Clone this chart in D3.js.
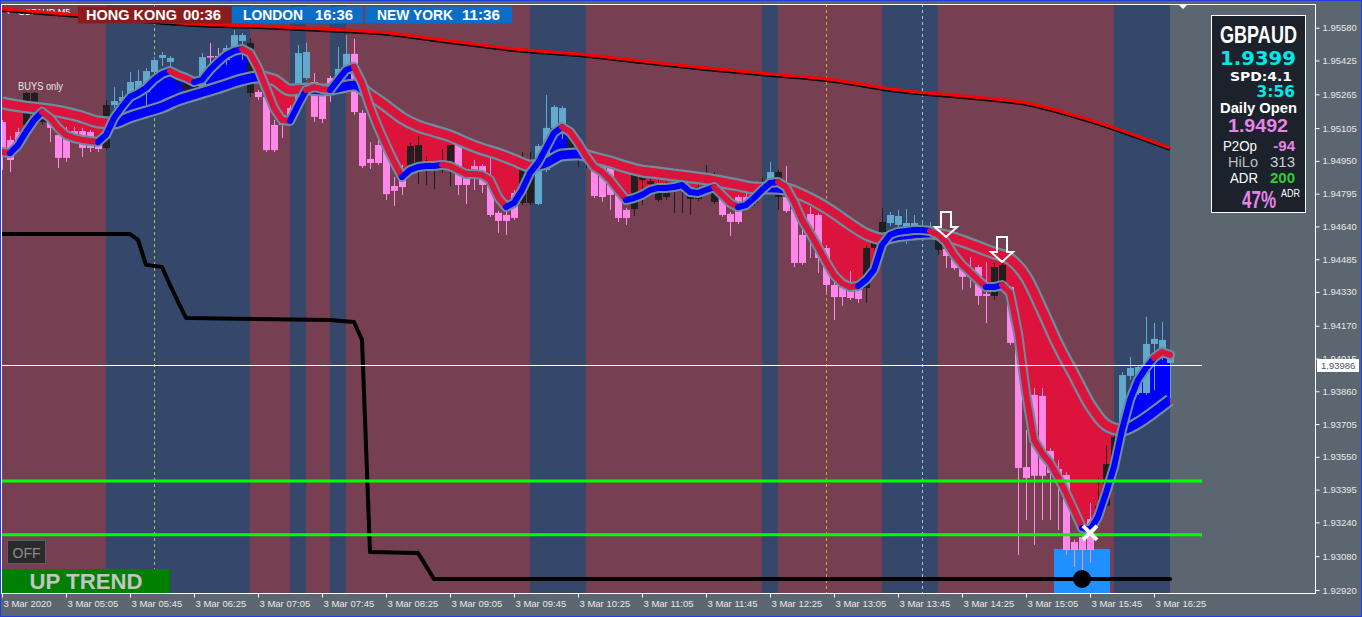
<!DOCTYPE html>
<html><head><meta charset="utf-8">
<script src="https://cdn.jsdelivr.net/npm/d3@7/dist/d3.min.js"></script>
<style>
html,body{margin:0;padding:0;background:#5B6670;overflow:hidden;}
svg{display:block;}
text{font-family:"Liberation Sans",Arial,sans-serif;}
</style></head>
<body>
<svg id="chart" width="1362" height="617"></svg>
<script>
// ---------------- DATA ----------------
const symbol = "GBPAUD";
const timeLabels = ["3 Mar 2020","3 Mar 05:05","3 Mar 05:45","3 Mar 06:25","3 Mar 07:05","3 Mar 07:45","3 Mar 08:25","3 Mar 09:05","3 Mar 09:45","3 Mar 10:25","3 Mar 11:05","3 Mar 11:45","3 Mar 12:25","3 Mar 13:05","3 Mar 13:45","3 Mar 14:25","3 Mar 15:05","3 Mar 15:45","3 Mar 16:25"];
const timeTickBars = [0,8,16,24,32,40,48,56,64,72,80,88,96,104,112,120,128,136,144];
const priceTicks = [1.95580,1.95425,1.95265,1.95105,1.94950,1.94795,1.94640,1.94485,1.94330,1.94170,1.94015,1.93860,1.93705,1.93550,1.93395,1.93240,1.93080,1.92920];

// session bands (bar index ranges), kinds: m = maroon session, n = navy session
const sessionFrom = [0,13,31,36,38,41,43,66,73,95,97,110,117,139];
const sessionTo   = [13,31,36,38,41,43,66,73,95,97,110,117,139,146];
const sessionKind = ["m","n","m","n","m","n","m","n","m","n","m","n","m","n"];

// candles (M5 bars, index 0 = 04:25)
const opens = [
1.95134,1.95049,1.95087,1.95120,1.95134,1.95134,1.95143,1.95072,1.95063,1.95091,
1.95091,1.95087,1.95058,1.95011,1.95214,1.95233,1.95252,1.95276,1.95276,1.95370,
1.95437,1.95418,1.95323,1.95271,1.95271,1.95271,1.95446,1.95446,1.95427,1.95474,
1.95517,1.95508,1.95276,1.95252,1.95120,1.95167,1.95200,1.95229,1.95342,1.95323,
1.95262,1.95342,1.95347,1.95389,1.95456,1.95177,1.94959,1.95025,1.95035,1.94831,
1.94912,1.94912,1.94912,1.94912,1.94921,1.94921,1.94921,1.95025,1.94869,1.94926,
1.94926,1.94831,1.94704,1.94694,1.94798,1.94751,1.94751,1.94746,1.94907,1.95106,
1.95110,1.94983,1.94973,1.94964,1.94945,1.94931,1.94926,1.94789,1.94718,1.94722,
1.94860,1.94841,1.94765,1.94779,1.94826,1.94822,1.94770,1.94770,1.94845,1.94756,
1.94770,1.94699,1.94779,1.94779,1.94751,1.94836,1.94864,1.94779,1.94779,1.94722,
1.94600,1.94699,1.94694,1.94538,1.94363,1.94353,1.94340,1.94340,1.94349,1.94538,
1.94609,1.94656,1.94647,1.94637,1.94642,1.94623,1.94618,1.94529,1.94533,1.94505,
1.94443,1.94424,1.94448,1.94320,1.94311,1.94372,1.94353,1.94103,1.93502,1.93843,
1.93838,1.93578,1.93493,1.93464,1.93147,1.93171,1.93256,1.93261,1.93318,1.93521,
1.93663,1.93933,1.93852,1.93852,1.94084,1.94065,1.93994];
const highs = [
1.95143,1.95068,1.95106,1.95276,1.95276,1.95224,1.95153,1.95096,1.95110,1.95110,
1.95106,1.95096,1.95068,1.95238,1.95299,1.95281,1.95370,1.95380,1.95389,1.95441,
1.95465,1.95446,1.95370,1.95342,1.95333,1.95460,1.95508,1.95484,1.95498,1.95569,
1.95555,1.95531,1.95285,1.95262,1.95143,1.95181,1.95214,1.95498,1.95508,1.95366,
1.95276,1.95352,1.95489,1.95545,1.95527,1.95191,1.95039,1.95049,1.95049,1.94874,
1.94931,1.95035,1.95068,1.94973,1.94945,1.95006,1.95025,1.95035,1.94879,1.94954,
1.94935,1.94964,1.94713,1.94708,1.94812,1.94992,1.94992,1.95030,1.95262,1.95214,
1.95210,1.95087,1.95049,1.95011,1.94992,1.94954,1.94940,1.94798,1.94727,1.94897,
1.94883,1.94869,1.94907,1.94850,1.94916,1.94860,1.94812,1.94860,1.94931,1.94897,
1.94789,1.94708,1.94789,1.94845,1.94850,1.94869,1.94945,1.94907,1.94926,1.94741,
1.94647,1.94732,1.94704,1.94552,1.94377,1.94368,1.94429,1.94349,1.94552,1.94614,
1.94727,1.94708,1.94718,1.94722,1.94694,1.94671,1.94661,1.94614,1.94543,1.94514,
1.94453,1.94495,1.94458,1.94472,1.94467,1.94472,1.94358,1.94112,1.93677,1.93876,
1.93876,1.93592,1.93535,1.93478,1.93157,1.93180,1.93332,1.93455,1.93606,1.93663,
1.93951,1.94022,1.93985,1.94212,1.94183,1.94188,1.94046];
const lows = [
1.94907,1.94897,1.95020,1.95110,1.95124,1.95120,1.95039,1.94916,1.94945,1.95049,
1.94968,1.94992,1.94992,1.95001,1.95200,1.95186,1.95243,1.95266,1.95214,1.95361,
1.95399,1.95380,1.95285,1.95262,1.95262,1.95262,1.95394,1.95413,1.95404,1.95451,
1.95427,1.95252,1.95238,1.94992,1.94992,1.95058,1.95134,1.95219,1.95333,1.95134,
1.95129,1.95229,1.95333,1.95380,1.95167,1.94916,1.94912,1.94931,1.94765,1.94737,
1.94789,1.94897,1.94841,1.94836,1.94817,1.94893,1.94831,1.94789,1.94746,1.94812,
1.94798,1.94685,1.94609,1.94600,1.94671,1.94741,1.94741,1.94741,1.94897,1.95096,
1.95054,1.94973,1.94921,1.94916,1.94774,1.94756,1.94718,1.94661,1.94647,1.94689,
1.94741,1.94789,1.94756,1.94765,1.94704,1.94704,1.94694,1.94760,1.94836,1.94746,
1.94685,1.94595,1.94651,1.94741,1.94737,1.94822,1.94850,1.94718,1.94704,1.94448,
1.94458,1.94491,1.94420,1.94330,1.94197,1.94264,1.94292,1.94278,1.94278,1.94529,
1.94600,1.94642,1.94623,1.94557,1.94576,1.94576,1.94595,1.94505,1.94443,1.94434,
1.94340,1.94349,1.94268,1.94183,1.94292,1.94325,1.94079,1.93086,1.93251,1.93133,
1.93251,1.93251,1.93204,1.93086,1.93029,1.92968,1.93048,1.93251,1.93308,1.93512,
1.93653,1.93914,1.93843,1.93843,1.93866,1.94008,1.93828];
const closes = [
1.94987,1.94954,1.95044,1.95271,1.95271,1.95158,1.95106,1.94964,1.94964,1.95063,
1.95011,1.95011,1.95006,1.95214,1.95233,1.95252,1.95323,1.95328,1.95375,1.95427,
1.95451,1.95437,1.95356,1.95323,1.95309,1.95441,1.95441,1.95441,1.95484,1.95545,
1.95545,1.95271,1.95252,1.95001,1.95001,1.95120,1.95153,1.95460,1.95465,1.95158,
1.95148,1.95304,1.95385,1.95456,1.95181,1.94926,1.94940,1.94940,1.94793,1.94808,
1.94826,1.95020,1.95025,1.94945,1.94940,1.94940,1.95025,1.94836,1.94836,1.94897,
1.94836,1.94694,1.94666,1.94666,1.94680,1.94907,1.94926,1.95020,1.95106,1.95205,
1.95200,1.95068,1.95035,1.95001,1.94784,1.94779,1.94789,1.94680,1.94680,1.94883,
1.94874,1.94855,1.94812,1.94812,1.94845,1.94841,1.94789,1.94826,1.94879,1.94817,
1.94694,1.94661,1.94661,1.94756,1.94845,1.94855,1.94897,1.94897,1.94713,1.94467,
1.94467,1.94585,1.94491,1.94363,1.94306,1.94306,1.94301,1.94297,1.94538,1.94609,
1.94661,1.94694,1.94689,1.94656,1.94656,1.94637,1.94633,1.94590,1.94500,1.94443,
1.94401,1.94401,1.94311,1.94311,1.94448,1.94458,1.94089,1.93497,1.93450,1.93460,
1.93460,1.93474,1.93464,1.93109,1.93109,1.93109,1.93109,1.93318,1.93516,1.93644,
1.93937,1.93970,1.93975,1.94084,1.94108,1.94103,1.94018];
// candle colour class: d = pink, u = light blue, k = black
const candleKind = ("ddd"+"kkk"+"ddddddd"+"k"+"uuuuuuuu"+"kkk"+"u"+"dd"+"uuu"+"k"+"ddddd"+"uu"+"ddd"+"uu"+"ddddddd"+"kkkkkk"+"dddddddd"+"kk"+"uuuu"+"kkk"+"ddddd"+"kkkkkkkkkkk"+"dddd"+"kk"+"u"+"k"+"dddddddddd"+"kkk"+"uuuuuu"+"k"+"dddddd"+"kk"+"ddddddddddd"+"kkk"+"uuuuuuu").split("");

// fast moving average (one value per bar)
const fastMA = [
1.94992,1.94987,1.95025,1.95087,1.95143,1.95181,1.95153,1.95106,1.95072,1.95058,
1.95049,1.95044,1.95039,1.95072,1.95153,1.95205,1.95252,1.95271,1.95295,1.95333,
1.95361,1.95375,1.95356,1.95342,1.95323,1.95333,1.95380,1.95418,1.95451,1.95470,
1.95479,1.95460,1.95389,1.95295,1.95200,1.95143,1.95139,1.95214,1.95285,1.95299,
1.95290,1.95285,1.95333,1.95380,1.95394,1.95318,1.95205,1.95110,1.95025,1.94945,
1.94874,1.94907,1.94921,1.94926,1.94926,1.94931,1.94926,1.94907,1.94888,1.94888,
1.94883,1.94860,1.94779,1.94732,1.94751,1.94812,1.94893,1.94940,1.95011,1.95082,
1.95110,1.95087,1.95035,1.94973,1.94921,1.94897,1.94860,1.94812,1.94765,1.94774,
1.94789,1.94812,1.94822,1.94822,1.94826,1.94836,1.94803,1.94798,1.94812,1.94826,
1.94789,1.94751,1.94732,1.94741,1.94774,1.94812,1.94845,1.94850,1.94826,1.94756,
1.94671,1.94609,1.94543,1.94472,1.94410,1.94372,1.94353,1.94358,1.94387,1.94434,
1.94552,1.94600,1.94614,1.94618,1.94623,1.94623,1.94618,1.94600,1.94566,1.94505,
1.94458,1.94424,1.94387,1.94353,1.94353,1.94363,1.94325,1.94136,1.93852,1.93630,
1.93568,1.93521,1.93455,1.93379,1.93298,1.93214,1.93204,1.93266,1.93379,1.93502,
1.93677,1.93819,1.93914,1.93970,1.94018,1.94046,1.94032];
// colour of each fast-MA segment: b = blue, r = red
const fastTrend = ("rr"+"bbbb"+"rrrrrrr"+"bbbbbbbbb"+"rrr"+"bbbbbb"+"rrrrrr"+"bb"+"rrr"+"bbb"+"rrrrrr"+"bbbbb"+"rrrrrrrr"+"bbbbbbb"+"rrrrrrrr"+"bbbbbbbbbbb"+"rrr"+"bbbbb"+"rrrrrrrrrr"+"bbbbbbbbb"+"rrrrrrr"+"bb"+"rrrrrrrrrr"+"bbbbbbbbb"+"rr").split("");

// slow moving average (every second bar)
const slowBars = [0,2,4,6,8,10,12,14,16,18,20,22,24,26,28,30,32,34,36,38,40,42,44,46,48,50,52,54,56,58,60,62,64,66,68,70,72,74,76,78,80,82,84,86,88,90,92,94,96,98,100,102,104,106,108,110,112,114,116,118,120,122,124,126,128,130,132,134,136,138,140,142,144,146];
const slowMA = [
1.95224,1.95210,1.95200,1.95191,1.95177,1.95158,1.95134,1.95129,1.95158,1.95181,
1.95205,1.95238,1.95262,1.95285,1.95309,1.95333,1.95347,1.95333,1.95285,1.95290,
1.95285,1.95295,1.95309,1.95262,1.95210,1.95153,1.95115,1.95091,1.95068,1.95035,
1.95006,1.94983,1.94954,1.94926,1.94940,1.94978,1.94983,1.94964,1.94945,1.94921,
1.94902,1.94893,1.94883,1.94874,1.94864,1.94850,1.94836,1.94822,1.94822,1.94817,
1.94789,1.94751,1.94704,1.94651,1.94604,1.94581,1.94595,1.94604,1.94609,1.94595,
1.94571,1.94543,1.94514,1.94486,1.94401,1.94245,1.94079,1.93937,1.93795,1.93701,
1.93677,1.93710,1.93762,1.93819];

// long red moving average
const longMABars = [0,8,16,24,32,40,48,56,64,72,80,88,96,104,112,120,128,136,144,146];
const longMA = [1.95668,1.95645,1.95621,1.95597,1.95588,1.95574,1.95556,1.95517,1.95479,1.95456,1.95422,1.95389,1.95361,1.95333,1.95285,1.95257,1.95224,1.95143,1.95039,1.95011];

// black step line
const stepBars = [0,16,17,18,20,21,22,23,41,44,45,46,52,53,54,146];
const stepValues = [1.94604,1.94604,1.94576,1.94458,1.94448,1.94363,1.94283,1.94207,1.94197,1.94188,1.94103,1.93100,1.93095,1.93034,1.92972,1.92972];

// horizontal levels
const currentPrice = 1.93986;
const greenLevels = [1.93436,1.93181];
const levelEndBar = 150;

// vertical dashed markers
const vlineBars = [19,103,115];

// signals
const arrowBars = [118,125];
const arrowPrices = [1.94590,1.94472];
const crossBar = 136, crossPrice = 1.93190;
const dotBar = 135, dotPrice = 1.92972;
const zoneBars = [131.5,138.5], zoneTop = 1.93114;

// ---------------- DRAW ----------------
const W = 1362, H = 617;
const plotL = 2, plotR = 1315, plotT = 4, plotB = 593;
const svg = d3.select("#chart");
const x = d3.scaleLinear().domain([0,146]).range([2,1170]);
const y = d3.scaleLinear().domain([1.92920,1.95580]).range([590,27.7]);

const C = {maroon:"#774052", navy:"#35486C", gray:"#5B6670", red:"#DC143C", blue:"#0000FF",
           edge:"#6A8EA0", up:"#62A9CB", down:"#FF88EA", black:"#1F1F1F"};

svg.append("rect").attr("width",W).attr("height",H).attr("fill",C.gray);

const defs = svg.append("defs");
defs.append("clipPath").attr("id","plotClip").append("rect")
  .attr("x",plotL).attr("y",plotT).attr("width",plotR-plotL).attr("height",plotB-plotT);

const fastPts = fastMA.map((v,i)=>[i,v]);
const slowPts = slowMA.map((v,k)=>[slowBars[k],v]);
const areaAbove = (curve)=>d3.area().x(d=>x(d[0])).y0(plotT).y1(d=>y(d[1])).curve(curve);
const areaBelow = (curve)=>d3.area().x(d=>x(d[0])).y0(plotB).y1(d=>y(d[1])).curve(curve);
const lineGen = (curve)=>d3.line().x(d=>x(d[0])).y(d=>y(d[1])).curve(curve);

defs.append("clipPath").attr("id","aboveSlow").append("path").attr("d",areaAbove(d3.curveMonotoneX)(slowPts));
defs.append("clipPath").attr("id","aboveFast").append("path").attr("d",areaAbove(d3.curveLinear)(fastPts));
defs.append("clipPath").attr("id","belowFast").append("path").attr("d",areaBelow(d3.curveLinear)(fastPts));

const g = svg.append("g").attr("clip-path","url(#plotClip)");

// sessions
g.selectAll("rect.sess").data(sessionFrom).join("rect")
  .attr("x",(d,i)=>x(d)).attr("width",(d,i)=>x(sessionTo[i])-x(d))
  .attr("y",plotT).attr("height",plotB-plotT)
  .attr("fill",(d,i)=>sessionKind[i]==="m"?C.maroon:C.navy);

// dashed verticals
const vCols = ["#9ACD32","#E0A020","#8FD0E8"];
g.selectAll("line.vl").data(vlineBars).join("line")
  .attr("x1",d=>Math.round(x(d))+0.5).attr("x2",d=>Math.round(x(d))+0.5)
  .attr("y1",plotT).attr("y2",plotB).attr("stroke",(d,i)=>vCols[i])
  .attr("stroke-width",1).attr("stroke-dasharray","3,3");

// highlight zone
g.append("rect").attr("x",x(zoneBars[0])).attr("width",x(zoneBars[1])-x(zoneBars[0]))
  .attr("y",y(zoneTop)).attr("height",plotB-y(zoneTop)).attr("fill","#1E90FF");

// fills between fast and slow
g.append("path").attr("d",areaBelow(d3.curveLinear)(fastPts)).attr("fill",C.blue).attr("clip-path","url(#aboveSlow)");
g.append("path").attr("d",areaBelow(d3.curveMonotoneX)(slowPts)).attr("fill",C.red).attr("clip-path","url(#aboveFast)");

// candles
const candles = opens.map((o,i)=>({i,o,h:highs[i],l:lows[i],c:closes[i],k:candleKind[i]}));
const kcol = k=>k==="u"?C.up:(k==="d"?C.down:C.black);
const cg = g.append("g");
cg.selectAll("line").data(candles).join("line")
  .attr("x1",d=>Math.round(x(d.i))+0.5).attr("x2",d=>Math.round(x(d.i))+0.5)
  .attr("y1",d=>y(d.h)).attr("y2",d=>y(d.l)).attr("stroke",d=>kcol(d.k)).attr("stroke-width",1);
cg.selectAll("rect").data(candles).join("rect")
  .attr("x",d=>Math.round(x(d.i))-3).attr("width",7)
  .attr("y",d=>y(Math.max(d.o,d.c))).attr("height",d=>Math.max(1.5,Math.abs(y(d.o)-y(d.c))))
  .attr("fill",d=>kcol(d.k));

// slow ribbon
const slowLine = lineGen(d3.curveMonotoneX)(slowPts);
g.append("path").attr("d",slowLine).attr("fill","none").attr("stroke",C.edge).attr("stroke-width",13).attr("stroke-linejoin","round");
g.append("path").attr("d",slowLine).attr("fill","none").attr("stroke",C.red).attr("stroke-width",8.5).attr("stroke-linejoin","round");
g.append("path").attr("d",slowLine).attr("fill","none").attr("stroke",C.blue).attr("stroke-width",8.5).attr("clip-path","url(#belowFast)");

// fast ribbon
const fastLine = lineGen(d3.curveLinear)(fastPts);
g.append("path").attr("d",fastLine).attr("fill","none").attr("stroke",C.edge).attr("stroke-width",10).attr("stroke-linejoin","round").attr("stroke-linecap","round");
const runs = []; let cur = null;
for (let i=1;i<fastMA.length;i++){
  const col = fastTrend[i];
  if(!cur || cur.col!==col){ cur={col,pts:[[i-1,fastMA[i-1]]]}; runs.push(cur); }
  cur.pts.push([i,fastMA[i]]);
}
g.selectAll("path.run").data(runs).join("path")
  .attr("d",d=>lineGen(d3.curveLinear)(d.pts)).attr("fill","none")
  .attr("stroke",d=>d.col==="b"?C.blue:C.red).attr("stroke-width",6)
  .attr("stroke-linejoin","round").attr("stroke-linecap","round");

// symbol label top-left (under red MA)
g.append("path").attr("d","M5,10 L12,10 L8.5,14 Z").attr("fill","#fff");
g.append("text").attr("x",18).attr("y",15).attr("font-size",9).attr("fill","#fff").text(symbol+",M5");

// long red MA
const longPts = longMA.map((v,i)=>[longMABars[i],v]);
const longLine = lineGen(d3.curveMonotoneX)(longPts);
g.append("path").attr("d",longLine).attr("fill","none").attr("stroke","#000").attr("stroke-width",3).attr("transform","translate(0,1.5)");
g.append("path").attr("d",longLine).attr("fill","none").attr("stroke","#FF0000").attr("stroke-width",3);

// black step line
const stepPts = stepValues.map((v,i)=>[stepBars[i],v]);
g.append("path").attr("d",lineGen(d3.curveLinear)(stepPts)).attr("fill","none")
  .attr("stroke","#000").attr("stroke-width",4).attr("stroke-linejoin","round").attr("stroke-linecap","round");

// horizontal levels
g.append("line").attr("x1",plotL).attr("x2",x(levelEndBar)).attr("y1",Math.round(y(currentPrice))+0.5).attr("y2",Math.round(y(currentPrice))+0.5)
  .attr("stroke","#fff").attr("stroke-width",1);
g.selectAll("line.gl").data(greenLevels).join("line")
  .attr("x1",plotL).attr("x2",x(levelEndBar)).attr("y1",d=>y(d)).attr("y2",d=>y(d))
  .attr("stroke","#00FF00").attr("stroke-width",3);

// dot & cross
g.append("circle").attr("cx",x(dotBar)).attr("cy",y(dotPrice)).attr("r",9).attr("fill","#000");
const cx = x(crossBar), cy = y(crossPrice);
g.append("path").attr("d",`M${cx-7},${cy-7}L${cx+7},${cy+7}M${cx+7},${cy-7}L${cx-7},${cy+7}`)
  .attr("stroke","#fff").attr("stroke-width",4);

// down arrows (tip at bar/price)
g.selectAll("path.arr").data(arrowBars).join("path")
  .attr("d",(d,i)=>{const tx=x(d), ty=y(arrowPrices[i]);
    return `M${tx-5},${ty-25}L${tx+5},${ty-25}L${tx+5},${ty-10}L${tx+11},${ty-10}L${tx},${ty}L${tx-11},${ty-10}L${tx-5},${ty-10}Z`;})
  .attr("fill","none").attr("stroke","#fff").attr("stroke-width",2).attr("stroke-linejoin","miter");

// "BUYS only"
svg.append("text").attr("x",18).attr("y",90).attr("font-size",10).attr("fill","#E6E6E6")
  .attr("textLength",45).attr("lengthAdjust","spacingAndGlyphs").text("BUYS only");

// session clocks header
const hdr = [
  {x:78,w:153,fill:"#8C1C1C",a:"HONG KONG",ax:86,aw:91,b:"00:36",bx:183},
  {x:232,w:131,fill:"#0A6EC8",a:"LONDON",ax:243,aw:60,b:"16:36",bx:315},
  {x:365,w:147,fill:"#0A6EC8",a:"NEW YORK",ax:377,aw:76,b:"11:36",bx:462}];
hdr.forEach(h=>{
  svg.append("rect").attr("x",h.x).attr("y",6.5).attr("width",h.w).attr("height",17).attr("fill",h.fill);
  svg.append("text").attr("x",h.ax).attr("y",20).attr("font-size",14).attr("font-weight","bold").attr("fill","#fff")
    .attr("textLength",h.aw).attr("lengthAdjust","spacingAndGlyphs").text(h.a);
  svg.append("text").attr("x",h.bx).attr("y",20).attr("font-size",14).attr("font-weight","bold").attr("fill","#fff")
    .attr("textLength",38).attr("lengthAdjust","spacingAndGlyphs").text(h.b);
});

// top right marker
svg.append("path").attr("d","M1178,4 L1188,4 L1183,9 Z").attr("fill","#fff");

// info panel
const P = svg.append("g");
P.append("rect").attr("x",1211.5).attr("y",15.5).attr("width",94).attr("height",197).attr("fill","#1B222C").attr("stroke","#fff").attr("stroke-width",1);
const ptxt = (t,xx,yy,size,fill,opts={})=>{
  const e = P.append("text").attr("x",xx).attr("y",yy).attr("font-size",size).attr("fill",fill).text(t);
  if(opts.bold) e.attr("font-weight","bold");
  if(opts.anchor) e.attr("text-anchor",opts.anchor);
  if(opts.len) e.attr("textLength",opts.len).attr("lengthAdjust","spacingAndGlyphs");
  if(opts.family) e.style("font-family",opts.family);
  return e;
};
ptxt(symbol,1220,43,24,"#fff",{bold:true,len:77});
ptxt("1.9399",1220,65,19,"#00E8E8",{bold:true,len:76,family:"DejaVu Sans"});
ptxt("SPD:4.1",1230,81,13,"#fff",{bold:true,len:62,family:"DejaVu Sans"});
ptxt("3:56",1295,97,15.5,"#00E8E8",{bold:true,anchor:"end",family:"DejaVu Sans"});
ptxt("Daily Open",1220,113,14,"#fff",{bold:true,len:77});
ptxt("1.9492",1228,132,19,"#E884E8",{bold:true,len:60});
ptxt("P2Op",1223,151,15,"#fff",{len:34});
ptxt("-94",1295,151,15,"#E884E8",{bold:true,anchor:"end"});
ptxt("HiLo",1228,167,15,"#BDBDBD",{len:30});
ptxt("313",1295,167,15,"#CFCFCF",{anchor:"end"});
ptxt("ADR",1230,183,15,"#fff",{len:28});
ptxt("200",1295,183,15,"#32CD32",{bold:true,anchor:"end"});
ptxt("47%",1242,208,23,"#E884E8",{bold:true,len:34});
ptxt("ADR",1281,197,10,"#fff",{len:19});

// OFF button & trend label
svg.append("rect").attr("x",7.5).attr("y",540.5).attr("width",38).attr("height",23).attr("fill","#2A2A2A").attr("stroke","#5E5E5E");
svg.append("text").attr("x",26.5).attr("y",558).attr("text-anchor","middle").attr("font-size",14).attr("fill","#8C8C8C").text("OFF");
svg.append("rect").attr("x",2).attr("y",569).attr("width",168).attr("height",24).attr("fill","#008000");
svg.append("text").attr("x",86).attr("y",589).attr("text-anchor","middle").attr("font-size",22).attr("font-weight","bold")
  .attr("fill","#C4C4C4").attr("textLength",113).attr("lengthAdjust","spacingAndGlyphs").text("UP TREND");

// frame
svg.append("rect").attr("x",plotL-0.5).attr("y",plotT+0.5).attr("width",plotR-plotL+1).attr("height",plotB-plotT)
  .attr("fill","none").attr("stroke","#fff").attr("stroke-width",1);

// axes
const yAxis = d3.axisRight(y).tickValues(priceTicks).tickSize(4).tickPadding(3).tickFormat(d3.format(".5f"));
const ya = svg.append("g").attr("transform",`translate(${plotR+0.5},0)`).call(yAxis);
ya.select(".domain").remove();
ya.selectAll("line").attr("stroke","#fff");
ya.selectAll("text").attr("fill","#E8E8E8").attr("font-size",9.5).style("font-family","'Liberation Sans',Arial,sans-serif");

const xAxis = d3.axisBottom(x).tickValues(timeTickBars).tickSize(4).tickPadding(3).tickFormat((d,i)=>timeLabels[i]);
const xa = svg.append("g").attr("transform",`translate(0,${plotB+0.5})`).call(xAxis);
xa.select(".domain").remove();
xa.selectAll("line").attr("stroke","#fff");
xa.selectAll("text").attr("fill","#E8E8E8").attr("font-size",9.5).attr("text-anchor","start").attr("dx",1)
  .style("font-family","'Liberation Sans',Arial,sans-serif");

// current price label
const cyp = Math.round(y(currentPrice))+0.5;
svg.append("rect").attr("x",1317).attr("y",cyp-6.5).attr("width",42).attr("height",13).attr("fill","#fff");
svg.append("text").attr("x",1321).attr("y",cyp+3.5).attr("font-size",9.5).attr("fill","#4C565E").text(currentPrice.toFixed(5));

// outer border
svg.append("rect").attr("x",0.5).attr("y",0.5).attr("width",W-1).attr("height",H-1).attr("fill","none").attr("stroke","#1F3DE0").attr("stroke-width",1);
</script>
</body></html>
